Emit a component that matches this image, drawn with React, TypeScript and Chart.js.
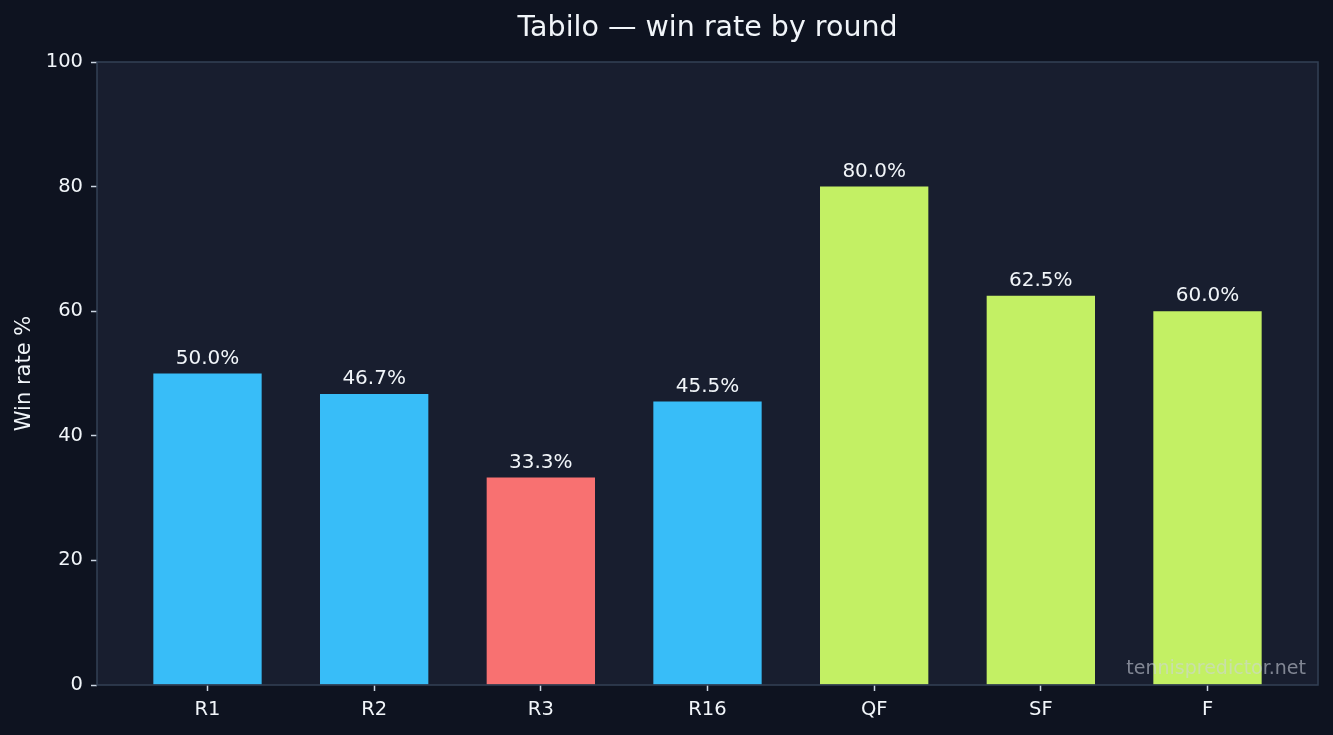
import React, { useEffect, useRef } from "react";
import { Chart, registerables } from "chart.js";

Chart.register(...registerables);

const rounds = ["R1", "R2", "R3", "R16", "QF", "SF", "F"];
const winRates = [50.0, 46.7, 33.3, 45.5, 80.0, 62.5, 60.0];
const barColors = ["#38bdf8", "#38bdf8", "#f87171", "#38bdf8", "#c3f064", "#c3f064", "#c3f064"];
const yTicks = [0, 20, 40, 60, 80, 100];
const titleText = "Tabilo — win rate by round";
const yTitle = "Win rate %";
const watermark = "tennispredictor.net";

const FONT = "'DejaVu Sans', sans-serif";
const OUTER_BG = "#0e1320";
const PLOT_BG = "#181e2f";
const FRAME = "#334155";
const TEXT = "#f1f5f9";

export default function App() {
  const ref = useRef<HTMLCanvasElement | null>(null);

  useEffect(() => {
    document.body.style.margin = "0";
    document.body.style.background = OUTER_BG;
    const canvas = ref.current;
    if (!canvas) return;

    const decor = {
      id: "decor",
      beforeDraw(chart: any) {
        const { ctx, chartArea: a } = chart;
        ctx.save();
        ctx.fillStyle = OUTER_BG;
        ctx.fillRect(0, 0, chart.width, chart.height);
        ctx.fillStyle = PLOT_BG;
        ctx.fillRect(a.left, a.top, a.right - a.left, a.bottom - a.top);
        ctx.restore();
      },
      afterDatasetsDraw(chart: any) {
        const { ctx, chartArea: a } = chart;
        ctx.save();
        // value labels
        const meta = chart.getDatasetMeta(0);
        ctx.font = `20px ${FONT}`;
        ctx.fillStyle = TEXT;
        ctx.textAlign = "center";
        ctx.textBaseline = "alphabetic";
        meta.data.forEach((bar: any, i: number) => {
          ctx.fillText(winRates[i].toFixed(1) + "%", bar.x, bar.y - 10);
        });
        // watermark
        ctx.font = `19px ${FONT}`;
        ctx.fillStyle = "rgba(205, 210, 220, 0.58)";
        ctx.textAlign = "right";
        ctx.textBaseline = "middle";
        ctx.fillText(watermark, a.right - 12, a.bottom - 16);
        // frame
        ctx.strokeStyle = FRAME;
        ctx.lineWidth = 1.5;
        ctx.strokeRect(a.left, a.top, a.right - a.left, a.bottom - a.top);
        // title
        ctx.font = `28.5px ${FONT}`;
        ctx.fillStyle = TEXT;
        ctx.textAlign = "center";
        ctx.textBaseline = "middle";
        ctx.fillText(titleText, (a.left + a.right) / 2, 29);
        ctx.restore();
      },
    };

    const tickGrid = {
      drawOnChartArea: false,
      drawTicks: true,
      tickLength: 6,
      tickColor: "#cbd5e1",
      tickWidth: 1.5,
      offset: false,
    };

    const chart = new Chart(canvas, {
      type: "bar",
      data: {
        datasets: [
          {
            data: winRates.map((v, i) => ({ x: i, y: v })),
            backgroundColor: barColors,
            borderWidth: 0,
            barPercentage: 0.65,
            categoryPercentage: 1,
          },
        ],
      },
      options: {
        responsive: false,
        animation: false,
        maintainAspectRatio: false,
        layout: { padding: { top: 62, right: 15, left: 0, bottom: 0 } },
        plugins: {
          legend: { display: false },
          tooltip: { enabled: false },
          title: { display: false },
        },
        scales: {
          x: {
            type: "linear",
            min: -0.663,
            max: 6.663,
            offset: false,
            afterFit(scale: any) {
              scale.height = 50;
            },
            afterBuildTicks(scale: any) {
              scale.ticks = rounds.map((_, i) => ({ value: i }));
            },
            ticks: {
              color: TEXT,
              font: { family: FONT, size: 19.5 },
              padding: 7,
              autoSkip: false,
              maxRotation: 0,
              callback: (v: any) => rounds[v as number] ?? "",
            },
            grid: tickGrid,
            border: { display: false },
          },
          y: {
            min: 0,
            max: 100,
            afterFit(scale: any) {
              scale.width = 97;
            },
            afterBuildTicks(scale: any) {
              scale.ticks = yTicks.map((v) => ({ value: v }));
            },
            ticks: {
              color: TEXT,
              font: { family: FONT, size: 19.5 },
              padding: 8,
            },
            grid: tickGrid,
            border: { display: false },
            title: {
              display: true,
              text: yTitle,
              color: TEXT,
              font: { family: FONT, size: 21 },
              padding: { top: 12, bottom: 0 },
            },
          },
        },
      },
      plugins: [decor],
    });

    return () => chart.destroy();
  }, []);

  return (
    <div style={{ width: 1333, height: 735 }}>
      <canvas ref={ref} width={1333} height={735} style={{ display: "block" }} />
    </div>
  );
}
